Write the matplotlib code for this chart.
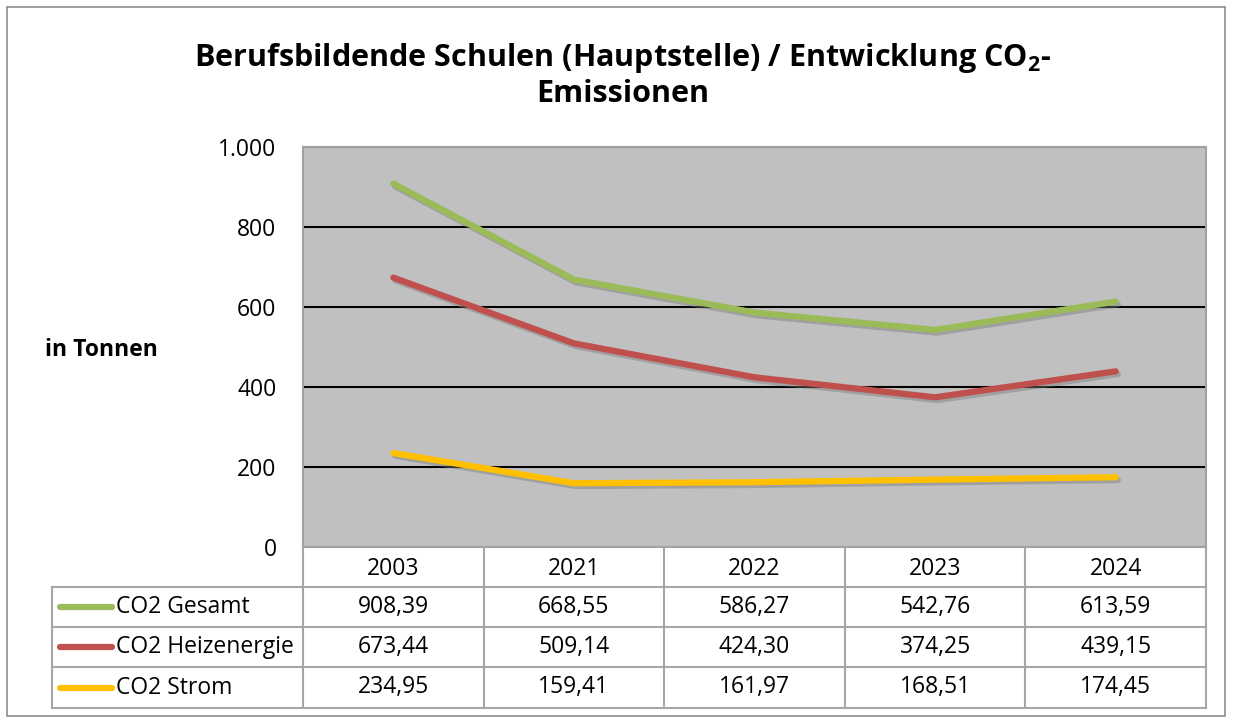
import matplotlib
matplotlib.use("Agg")
import matplotlib.pyplot as plt
import matplotlib.patheffects as pe
from matplotlib.lines import Line2D
from matplotlib.patches import Rectangle

years = ["2003", "2021", "2022", "2023", "2024"]
series_names = ["CO2 Gesamt", "CO2 Heizenergie", "CO2 Strom"]
gesamt = [908.39, 668.55, 586.27, 542.76, 613.59]
heiz = [673.44, 509.14, 424.30, 374.25, 439.15]
strom = [234.95, 159.41, 161.97, 168.51, 174.45]
colors = ["#9BBB59", "#C0504D", "#FFC000"]
yticks = [0, 200, 400, 600, 800, 1000]

plt.rcParams['font.family'] = ['Open Sans', 'DejaVu Sans']
plt.rcParams['mathtext.fontset'] = 'custom'
plt.rcParams['mathtext.rm'] = 'Open Sans'
plt.rcParams['mathtext.bf'] = 'Open Sans:bold'

W, H = 1233, 720
fig = plt.figure(figsize=(W / 100, H / 100), dpi=100)

def fx(x): return x / W
def fy(y): return 1 - y / H

FS = 16.5
px0, px1, py0, py1 = 303, 1206, 147, 547
ax = fig.add_axes([fx(px0), fy(py1), fx(px1) - fx(px0), fy(py0) - fy(py1)])
ax.set_facecolor("#C0C0C0")
ax.set_xlim(-0.5, len(years) - 0.5)
ax.set_ylim(0, 1000)
for s in ax.spines.values():
    s.set_color("#A0A0A0")
    s.set_linewidth(1.5)
ax.set_yticks(yticks)
ax.set_yticklabels([f"{v:,}".replace(",", ".") for v in yticks], fontsize=FS)
ax.tick_params(axis='y', length=0, pad=19)
ax.set_xticks([])
for v in yticks[1:-1]:
    ax.axhline(v, color="black", lw=1.5, zorder=1)

data = [gesamt, heiz, strom]
for vals, c in zip(data, colors):
    ax.plot(range(len(years)), vals, color=c, lw=4.5, solid_capstyle='round', zorder=3,
            path_effects=[pe.SimpleLineShadow(offset=(1.5, -2), shadow_color='#7a7a7a', alpha=0.45),
                          pe.Normal()])

# title
fig.text(fx(623), fy(75), "Berufsbildende Schulen (Hauptstelle) / Entwicklung CO$_\\mathbf{2}$-\nEmissionen",
         ha='center', va='center', fontsize=22, fontweight='bold', linespacing=1.2)
fig.text(fx(101), fy(350), "in Tonnen", ha='center', va='center', fontsize=16.5, fontweight='bold')

# table
gc = "#A6A6A6"
lw = 1.5
col_edges = [px0 + i * (px1 - px0) / len(years) for i in range(len(years) + 1)]
row_edges = [547, 587, 627, 667, 708]
legx = 52

def hline(x0, x1, y):
    fig.add_artist(Line2D([fx(x0), fx(x1)], [fy(y), fy(y)], color=gc, lw=lw))

def vline(x, y0, y1):
    fig.add_artist(Line2D([fx(x), fx(x)], [fy(y0), fy(y1)], color=gc, lw=lw))

for y in row_edges[1:]:
    hline(legx, px1, y)
for x in col_edges:
    vline(x, row_edges[0], row_edges[-1])
vline(legx, row_edges[1], row_edges[-1])

for i, yr in enumerate(years):
    cx = (col_edges[i] + col_edges[i + 1]) / 2
    fig.text(fx(cx), fy((row_edges[0] + row_edges[1]) / 2 + 2), yr, ha='center', va='center', fontsize=FS)

for r, (name, vals, c) in enumerate(zip(series_names, data, colors)):
    cy = (row_edges[r + 1] + row_edges[r + 2]) / 2
    fig.add_artist(Line2D([fx(60), fx(112)], [fy(cy), fy(cy)], color=c, lw=4.5, solid_capstyle='round'))
    fig.text(fx(116), fy(cy), name, ha='left', va='center', fontsize=FS)
    for i, v in enumerate(vals):
        cx = (col_edges[i] + col_edges[i + 1]) / 2
        fig.text(fx(cx), fy(cy), f"{v:.2f}".replace(".", ","), ha='center', va='center', fontsize=FS)

# outer frame
fig.add_artist(Rectangle((fx(7), fy(716)), fx(1225) - fx(7), fy(7) - fy(716), fill=False,
                         edgecolor="#8C8C8C", lw=1.2, transform=fig.transFigure))

fig.savefig("out.png", dpi=100)
